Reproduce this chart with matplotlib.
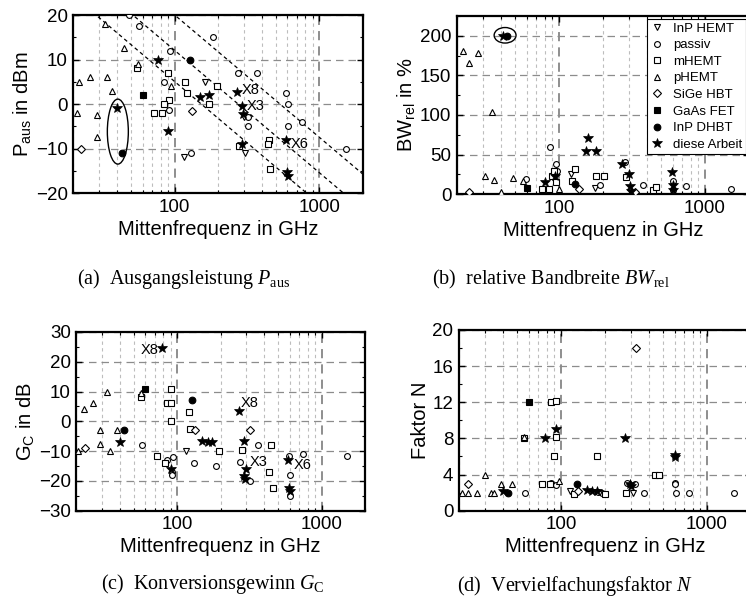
import matplotlib
matplotlib.use("Agg")
import matplotlib.pyplot as plt
import numpy as np
from matplotlib.patches import Ellipse
from matplotlib.ticker import FixedLocator, FixedFormatter, NullFormatter, MultipleLocator

plt.rcParams["font.family"] = ["Liberation Sans", "DejaVu Sans"]
plt.rcParams["mathtext.fontset"] = "custom"
plt.rcParams["mathtext.rm"] = "Liberation Serif"
plt.rcParams["mathtext.it"] = "Liberation Serif:italic"
plt.rcParams["mathtext.sf"] = "Liberation Sans"

categories = ["InP HEMT", "passiv", "mHEMT", "pHEMT", "SiGe HBT",
              "GaAs FET", "InP DHBT", "diese Arbeit"]

# (a) output power in dBm: (frequency GHz, value)
paus_inp_hemt = ([163, 116, 305, 300], [5, -12, -11, -3])
paus_passiv = ([48, 57, 93, 185, 84, 91, 130, 275, 370, 320, 320, 590, 605, 605, 752, 1530],
               [20, 17.5, 12, 15, 5, -1.3, -11, 7, 7, -3, -5, 2.5, 0, -5, -4, -10])
paus_mhemt = ([55, 90, 91, 85, 72, 82, 118, 122, 173, 196, 445, 440, 458, 280],
              [8, 7, 1, 0, -2, -2, 5, 2.5, 0, 4, -8, -9, -14.5, -9.5])
paus_phemt = ([33, 45, 56, 22, 26, 34, 37, 21, 29, 29, 95],
              [18, 12.5, 9, 5, 6, 6, 3, -2, -2.5, -7.5, 4])
paus_sige = ([22.5, 132], [-10, -1.5])
paus_gaas = ([60], [2])
paus_dhbt = ([43, 127], [-11, 10])
paus_work = ([40, 77, 90, 149, 172, 270, 293, 298, 290, 590, 594, 605],
             [-1, 10, -6, 1.5, 2, 2.8, -0.5, -2.2, -9, -8, -15.2, -16.1])

# (b) relative bandwidth in %
bw_inp_hemt = ([120, 175], [25, 8])
bw_passiv = ([87, 95, 97, 59, 190, 285, 375, 600, 605, 745, 1500],
             [59, 38, 29, 19, 12, 41, 12, 17, 6, 11, 7])
bw_mhemt = ([89, 92, 95, 76, 85, 128, 122, 178, 203, 288, 440, 465],
            [23, 29, 16, 7, 7, 32, 17, 23, 23, 22, 5, 9])
bw_phemt = ([22, 24, 28, 34.5, 31, 36, 48, 57, 100, 40],
            [181, 166, 178, 104, 23, 18, 20, 17, 7, 2.5])
bw_sige = ([24, 136, 330], [2.5, 7, 3])
bw_gaas = ([60], [8])
bw_dhbt = ([44, 129], [200, 13])
bw_work = ([41, 80, 94, 158, 152, 178, 270, 300, 305, 309, 590, 600, 605],
           [200, 16, 23, 71, 54, 54, 38, 26, 11, 4, 28, 12, 6])

# (c) conversion gain in dB
gc_inp_hemt = ([115], [-10])
gc_passiv = ([57, 94, 92, 92, 85, 131, 186, 273, 320, 365, 595, 605, 605, 747, 1510],
             [-8, -12, -17, -18, -13, -14, -15, -13.5, -20, -8, -11.5, -18, -25, -11, -11.8])
gc_mhemt = ([56, 91, 85, 91, 91, 72, 82, 120, 123, 196, 280, 445, 435, 462],
            [8, 11, 6, 6, 0, -11.5, -14, 3, -2.5, -10, -9.5, -8, -17, -22.5])
gc_phemt = ([22.5, 26, 32.5, 29, 29, 34, 38, 56, 20.5],
            [4, 6, 10, -3, -7.5, -10, -3, 9.5, -10])
gc_sige = ([23, 132, 320], [-9, -3, -3])
gc_gaas = ([60], [11])
gc_dhbt = ([43, 126], [-3, 7])
gc_work = ([78, 40, 90, 149, 163, 174, 266, 291, 299, 288, 297, 587, 597, 605],
           [24.5, -7, -16, -6.5, -7, -7, 3.5, -6.5, -16, -18.5, -19.5, -13, -22.5, -23.5])

# (d) multiplication factor N
n_inp_hemt = ([115, 310], [2.2, 2])
n_passiv = ([57, 86, 93, 190, 282, 320, 372, 600, 605, 610, 750, 1530, 180],
            [2, 3.1, 2.8, 2, 3.1, 3, 2, 3.1, 3.0, 2, 2, 2, 2.1])
n_mhemt = ([56, 86, 92, 92, 90, 74, 84, 123, 176, 200, 440, 465, 279],
           [8, 12, 12.1, 8.1, 6, 3, 2.9, 1.9, 6, 1.8, 4, 4, 2])
n_phemt = ([21, 23, 26.5, 33, 35, 30, 38.5, 46, 56, 97],
           [2, 2, 2, 2, 2, 4, 3, 3, 8.2, 3.3])
n_sige = ([23, 131, 326], [3, 2.2, 18])
n_gaas = ([60], [12])
n_dhbt = ([43, 128], [2, 3])
n_work = ([40, 78, 92, 151, 162, 176, 272, 297, 300, 600, 605],
          [2.2, 8, 9, 2.25, 2.2, 2.2, 8, 3, 2.7, 6.2, 5.9])

# guide lines in (a): frequency where each line crosses 20 dBm, slope dB/decade
guide_f0 = [28.6, 51.4, 100.0]
guide_slope = -27.5

styles = {
    "InP HEMT": ("v", False, 4.2),
    "passiv": ("o", False, 4.2),
    "mHEMT": ("s", False, 3.8),
    "pHEMT": ("^", False, 4.2),
    "SiGe HBT": ("D", False, 3.6),
    "GaAs FET": ("s", True, 4.2),
    "InP DHBT": ("o", True, 4.8),
    "diese Arbeit": ("*", True, 7.5),
}

fig = plt.figure(figsize=(7.46, 6.03), dpi=100)
ax_a = fig.add_axes([0.0985, 0.6799, 0.3881, 0.2952])
ax_b = fig.add_axes([0.6126, 0.6778, 0.3914, 0.2959])
ax_c = fig.add_axes([0.1025, 0.1531, 0.3867, 0.2964])
ax_d = fig.add_axes([0.6153, 0.1531, 0.3914, 0.2997])


def draw_panel(ax, data, ylim, ystep, yminor, ylabel):
    for cat, (f, v) in zip(categories, data):
        m, filled, ms = styles[cat]
        ax.plot(f, v, ls="none", marker=m, ms=ms,
                mfc="black" if filled else "white", mec="black",
                mew=0.5 if m == "*" else 0.8, label=cat, zorder=3)
    ax.set_xscale("log")
    ax.set_xlim(20, 2000)
    ax.set_ylim(ylim)
    ax.xaxis.set_major_locator(FixedLocator([100, 1000]))
    ax.xaxis.set_major_formatter(FixedFormatter(["100", "1000"]))
    minors = [k * 10 ** d for d in (1, 2, 3) for k in range(2, 10)]
    ax.xaxis.set_minor_locator(FixedLocator(minors))
    ax.xaxis.set_minor_formatter(NullFormatter())
    ax.yaxis.set_major_locator(MultipleLocator(ystep))
    ax.yaxis.set_minor_locator(MultipleLocator(yminor))
    ax.grid(which="major", axis="y", ls=(0, (6, 4)), color="#8c8c8c", lw=0.9)
    ax.grid(which="major", axis="x", ls=(0, (6, 4)), color="#707070", lw=1.1)
    ax.grid(which="minor", axis="x", ls=(0, (3, 3)), color="#bdbdbd", lw=0.8)
    ax.set_axisbelow(True)
    ax.tick_params(which="both", direction="in", top=True, right=True,
                   labelsize=13.5, pad=4)
    ax.tick_params(which="major", length=4, width=1)
    ax.tick_params(which="minor", length=2.5, width=0.8)
    for s in ax.spines.values():
        s.set_linewidth(1.6)
    ax.set_xlabel("Mittenfrequenz in GHz", fontsize=14.5, labelpad=3)
    ax.set_ylabel(ylabel, fontsize=14.5, labelpad=2)


def add_ellipse(ax, f, v, w, h):
    cx, cy = ax.transAxes.inverted().transform(ax.transData.transform((f, v)))
    ax.add_patch(Ellipse((cx, cy), w, h, transform=ax.transAxes, fill=False,
                         ec="black", lw=1.0, zorder=4))


def label_star(ax, text, f, v, dx, dy, ha="left"):
    ax.annotate(text, xy=(f, v), xytext=(dx, dy), textcoords="offset points",
                ha=ha, va="center", fontsize=10.5, zorder=5)


draw_panel(ax_a, [paus_inp_hemt, paus_passiv, paus_mhemt, paus_phemt, paus_sige,
                  paus_gaas, paus_dhbt, paus_work],
           (-20, 20), 10, 5, r"P$_\mathsf{aus}$ in dBm")
draw_panel(ax_b, [bw_inp_hemt, bw_passiv, bw_mhemt, bw_phemt, bw_sige,
                  bw_gaas, bw_dhbt, bw_work],
           (0, 225), 50, 25, r"BW$_\mathsf{rel}$ in %")
draw_panel(ax_c, [gc_inp_hemt, gc_passiv, gc_mhemt, gc_phemt, gc_sige,
                  gc_gaas, gc_dhbt, gc_work],
           (-30, 30), 10, 5, r"G$_\mathsf{C}$ in dB")
draw_panel(ax_d, [n_inp_hemt, n_passiv, n_mhemt, n_phemt, n_sige,
                  n_gaas, n_dhbt, n_work],
           (0, 20), 4, 2, "Faktor N")

# guide lines in (a)
fg = np.logspace(np.log10(20), np.log10(2000), 50)
for f0 in guide_f0:
    ax_a.plot(fg, 20 + guide_slope * (np.log10(fg) - np.log10(f0)),
              color="black", ls=(0, (3, 2.5)), lw=0.9, zorder=2)

add_ellipse(ax_a, 40.5, -6.2, 0.0725, 0.365)
add_ellipse(ax_b, 42.7, 200.5, 0.075, 0.087)

label_star(ax_a, "X8", paus_work[0][5], paus_work[1][5], 3.5, 1.2)
label_star(ax_a, "X3", paus_work[0][6], paus_work[1][6], 3.5, 0)
label_star(ax_a, "X6", paus_work[0][9], paus_work[1][9], 3, -3)
label_star(ax_c, "X8", gc_work[0][0], gc_work[1][0], -2.5, -1, ha="right")
label_star(ax_c, "X8", gc_work[0][6], gc_work[1][6], 1.5, 5.5)
label_star(ax_c, "X3", gc_work[0][8], gc_work[1][8], 3, 4.8)
label_star(ax_c, "X6", gc_work[0][11], gc_work[1][11], 4, -3.6)

leg = ax_b.legend(loc="upper right", fontsize=9.5, frameon=True, fancybox=False,
                  edgecolor="black", framealpha=1, borderpad=0.25,
                  handlelength=1.0, handletextpad=0.75, labelspacing=0.33,
                  borderaxespad=0.25)
leg.get_frame().set_linewidth(0.8)

cap = dict(fontsize=14.5, ha="center", va="center", family="Liberation Serif")
fig.text(0.2466, 0.5373, r"(a)  Ausgangsleistung $P_\mathrm{aus}$", **cap)
fig.text(0.7386, 0.5373, r"(b)  relative Bandbreite $BW_\mathrm{rel}$", **cap)
fig.text(0.2855, 0.0315, r"(c)  Konversionsgewinn $G_\mathrm{C}$", **cap)
fig.text(0.7708, 0.0282, r"(d)  Vervielfachungsfaktor $N$", **cap)

fig.savefig("out.png", dpi=100)
